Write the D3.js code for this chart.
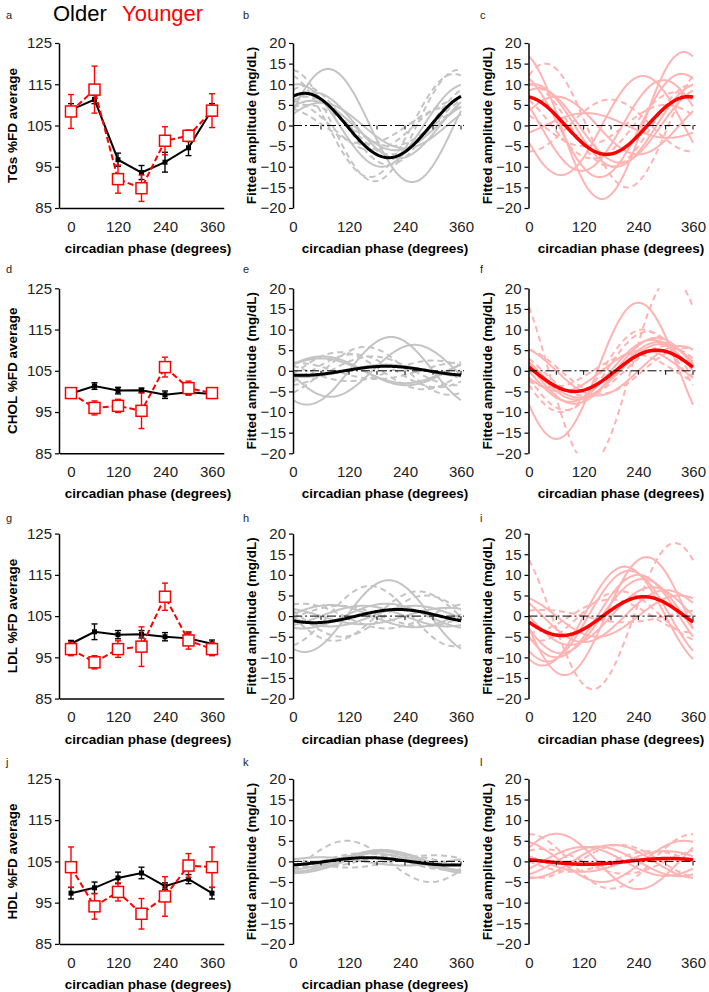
<!DOCTYPE html>
<html>
<head>
<meta charset="utf-8">
<script src="https://cdn.jsdelivr.net/npm/d3@7"></script>
<style>
  body { margin: 0; background: #fff; }
  svg { font-family: "Liberation Sans", Arial, sans-serif; }
</style>
</head>
<body>
<svg id="chart" width="709" height="992"></svg>
<script>
// ---- data ----
const phases = [0, 60, 120, 180, 240, 300, 360];
const xTicks = [0, 120, 240, 360];
const pctTicks = [85, 95, 105, 115, 125];
const ampTicks = [-20, -15, -10, -5, 0, 5, 10, 15, 20];
const lipids = ['TGs', 'CHOL', 'LDL', 'HDL'];
const panelLetters = ['a', 'b', 'c', 'd', 'e', 'f', 'g', 'h', 'i', 'j', 'k', 'l'];

// %FD average, mean and error per phase
const tgOlder = [108.8, 111.3, 96.7, 93.6, 96.1, 99.6, 108.8];
const tgOlderErr = [1.5, 1.0, 1.6, 1.7, 2.4, 1.9, 1.5];
const tgYounger = [108.4, 113.7, 92.0, 89.8, 101.3, 102.5, 108.6];
const tgYoungerErr = [4.1, 5.7, 3.4, 3.2, 3.4, 1.4, 4.1];

const cholOlder = [99.5, 101.3, 100.2, 100.3, 99.2, 99.8, 99.4];
const cholOlderErr = [0.5, 0.8, 0.8, 0.5, 0.9, 0.6, 0.5];
const cholYounger = [99.6, 96.0, 96.5, 95.3, 105.9, 100.8, 99.6];
const cholYoungerErr = [0.4, 1.7, 1.6, 4.3, 2.4, 1.7, 0.4];

const ldlOlder = [98.3, 101.2, 100.5, 100.6, 100.0, 99.6, 98.3];
const ldlOlderErr = [0.8, 1.9, 1.0, 0.9, 1.0, 1.3, 0.9];
const ldlYounger = [97.0, 93.8, 97.0, 97.6, 109.7, 99.1, 97.0];
const ldlYoungerErr = [1.6, 1.6, 2.0, 4.8, 3.3, 2.1, 1.6];

const hdlOlder = [97.3, 98.6, 101.0, 102.2, 99.0, 100.7, 97.3];
const hdlOlderErr = [1.4, 1.4, 1.4, 1.4, 0.8, 1.1, 1.4];
const hdlYounger = [103.6, 94.1, 97.6, 92.3, 96.5, 104.0, 103.6];
const hdlYoungerErr = [4.9, 3.1, 2.2, 3.7, 4.8, 2.9, 4.9];

// cosinor fits: [amplitude (mg/dL), acrophase (deg), dashed?]
const tgOlderMean = [7.8, 25];
const tgOlderFits = [
  [13.7, 75, 0], [10, 10, 0], [13.5, -5, 1], [12.5, -15, 1], [7, 30, 1], [6, 40, 0],
  [5, 30, 1], [4.5, -25, 1], [9.5, 25, 1], [6, -10, 1], [8, 45, 0], [5.5, 60, 0]
];
const tgYoungerMean = [7, -10];
const tgYoungerFits = [
  [17.8, -20, 0], [15, 36, 1], [12, 250, 0], [6.3, 178, 1], [3, 125, 0], [12.5, -25, 0],
  [11, 295, 0], [10, 0, 1], [9, 20, 0], [8, -40, 1], [10, 10, 0], [5, -60, 1], [7, 60, 0]
];
const cholOlderMean = [1.1, 200];
const cholOlderFits = [
  [8.2, 210, 0], [6.3, 260, 0], [5.8, 155, 1], [4.5, 100, 1], [3, 60, 0], [3.5, 63, 0],
  [2.5, 300, 1], [3.5, 170, 1], [2, 0, 1], [1.5, 200, 0], [4, 130, 1]
];
const cholYoungerMean = [5, 280];
const cholYoungerFits = [
  [16.5, 240, 0], [22.6, 313, 1], [6, 330, 0], [5.5, 340, 1], [10, 250, 1], [7.5, 270, 0],
  [7, 285, 0], [6, 300, 1], [8, 280, 0], [5, 250, 0], [6.5, 290, 0], [4, 230, 1], [9.5, 260, 1]
];
const ldlOlderMean = [1.6, 225];
const ldlOlderFits = [
  [8.7, 205, 0], [7.3, 165, 1], [6, 268, 1], [2.7, 80, 0], [5, 285, 1], [2.5, 150, 0],
  [3, 20, 1], [2, 330, 0], [3, 200, 0], [2.5, 100, 1], [2.5, 260, 0]
];
const ldlYoungerMean = [4.7, 252];
const ldlYoungerFits = [
  [17.7, 320, 1], [14.3, 258, 0], [12, 210, 0], [11, 220, 0], [6.3, 300, 0], [5, 330, 0],
  [1.5, 30, 1], [6, 200, 1], [9, 250, 0], [7, 270, 0], [4, 180, 1], [10, 240, 0]
];
const hdlOlderMean = [0.9, 160];
const hdlOlderFits = [
  [5, 115, 1], [2.8, 190, 0], [2.5, 200, 0], [2, 170, 0], [1.5, 230, 1], [2, 150, 1],
  [1, 60, 0], [2.5, 180, 0], [1.5, 300, 1]
];
const hdlYoungerMean = [0.7, 305];
const hdlYoungerFits = [
  [6.7, 60, 0], [6.6, 0, 1], [4, 185, 0], [4, 200, 1], [5, 340, 0], [3.5, 120, 0],
  [2.5, 270, 1], [3, 30, 1], [2.5, 300, 0], [3.6, 150, 0]
];

// ---- layout ----
const svg = d3.select('#chart');
const rowTop = [43, 288.3, 533.6, 778.9];
const plotH = 165;
const cols = [
  { axisX: 59, x0: 71, x1: 212, titleX: 148, yTitleX: 12 },
  { axisX: 293, x0: 293, x1: 461, titleX: 385, yTitleX: 251 },
  { axisX: 528.5, x0: 529, x1: 693, titleX: 621, yTitleX: 487 }
];

const pctData = [
  [tgOlder, tgOlderErr, tgYounger, tgYoungerErr],
  [cholOlder, cholOlderErr, cholYounger, cholYoungerErr],
  [ldlOlder, ldlOlderErr, ldlYounger, ldlYoungerErr],
  [hdlOlder, hdlOlderErr, hdlYounger, hdlYoungerErr]
];
const fitData = [
  [tgOlderMean, tgOlderFits, tgYoungerMean, tgYoungerFits],
  [cholOlderMean, cholOlderFits, cholYoungerMean, cholYoungerFits],
  [ldlOlderMean, ldlOlderFits, ldlYoungerMean, ldlYoungerFits],
  [hdlOlderMean, hdlOlderFits, hdlYoungerMean, hdlYoungerFits]
];

// legend
svg.append('text').attr('x', 53).attr('y', 21).attr('font-size', 22).attr('fill', '#000').text('Older');
svg.append('text').attr('x', 122).attr('y', 21).attr('font-size', 22).attr('fill', '#ff0000').text('Younger');

const styleAxis = (g) => {
  g.selectAll('.domain').attr('stroke', '#000').attr('stroke-width', 1.5);
  g.selectAll('.tick line').attr('stroke', '#000').attr('stroke-width', 1.2);
  g.selectAll('.tick text').attr('font-size', 15).attr('fill', '#222').attr('font-family', null);
};

const yTitle = (x, top, label) => {
  svg.append('text')
    .attr('transform', `translate(${x},${top + plotH / 2}) rotate(-90)`)
    .attr('text-anchor', 'middle').attr('dominant-baseline', 'central')
    .attr('font-size', 13.5).attr('font-weight', 'bold').text(label);
};
const xTitle = (x, top) => {
  svg.append('text').attr('x', x).attr('y', top + plotH + 45)
    .attr('text-anchor', 'middle').attr('font-size', 13.5).attr('font-weight', 'bold')
    .text('circadian phase (degrees)');
};
const letter = (x, y, t) => {
  svg.append('text').attr('x', x).attr('y', y).attr('font-size', 11).attr('fill', '#222').text(t);
};

// left column: %FD average with error bars
const drawPct = (r) => {
  const top = rowTop[r];
  const c = cols[0];
  const [older, olderErr, younger, youngerErr] = pctData[r];
  const x = d3.scaleLinear().domain([0, 360]).range([c.x0, c.x1]);
  const xAxisScale = d3.scaleLinear().domain([-30, 390]).range([x(-30), x(390)]);
  const y = d3.scaleLinear().domain([85, 125]).range([top + plotH, top]);

  svg.append('g').attr('transform', `translate(${c.axisX},0)`)
    .call(d3.axisLeft(y).tickValues(pctTicks).tickSize(4).tickSizeOuter(0).tickPadding(3))
    .call(styleAxis);
  svg.append('g').attr('transform', `translate(0,${top + plotH})`)
    .call(d3.axisBottom(xAxisScale).tickValues(xTicks).tickSize(0).tickPadding(13))
    .call(styleAxis);

  const line = d3.line().x((d, i) => x(phases[i])).y(d => y(d));
  const g = svg.append('g');

  const errBars = (vals, errs, colour) => {
    phases.forEach((p, i) => {
      const px = x(p), lo = y(vals[i] - errs[i]), hi = y(vals[i] + errs[i]);
      g.append('line').attr('x1', px).attr('x2', px).attr('y1', lo).attr('y2', hi)
        .attr('stroke', colour).attr('stroke-width', 1.4);
      [lo, hi].forEach(v => g.append('line').attr('x1', px - 3).attr('x2', px + 3)
        .attr('y1', v).attr('y2', v).attr('stroke', colour).attr('stroke-width', 1.4));
    });
  };

  // older (black)
  errBars(older, olderErr, '#000');
  g.append('path').datum(older).attr('d', line).attr('fill', 'none')
    .attr('stroke', '#000').attr('stroke-width', 2);
  g.selectAll(null).data(older).enter().append('rect')
    .attr('x', (d, i) => x(phases[i]) - 2.5).attr('y', d => y(d) - 2.5)
    .attr('width', 5).attr('height', 5).attr('fill', '#000');

  // younger (red)
  errBars(younger, youngerErr, '#ff0000');
  g.append('path').datum(younger).attr('d', line).attr('fill', 'none')
    .attr('stroke', '#ff0000').attr('stroke-width', 2).attr('stroke-dasharray', '6,3');
  g.selectAll(null).data(younger).enter().append('rect')
    .attr('x', (d, i) => x(phases[i]) - 5.5).attr('y', d => y(d) - 5.5)
    .attr('width', 11).attr('height', 11).attr('fill', '#fff')
    .attr('stroke', '#ff0000').attr('stroke-width', 1.5);

  yTitle(c.yTitleX, top, `${lipids[r]} %FD average`);
  xTitle(c.titleX, top);
};

// middle / right columns: fitted cosinor curves
const drawFits = (r, col) => {
  const top = rowTop[r];
  const c = cols[col];
  const mean = fitData[r][col === 1 ? 0 : 2];
  const fits = fitData[r][col === 1 ? 1 : 3];
  const faint = col === 1 ? '#c4c4c4' : '#ffb3b3';
  const strong = col === 1 ? '#000' : '#ff0000';

  const x = d3.scaleLinear().domain([0, 360]).range([c.x0, c.x1]);
  const y = d3.scaleLinear().domain([-20, 20]).range([top + plotH, top]);

  const clipId = `clip-${r}-${col}`;
  svg.append('clipPath').attr('id', clipId).append('rect')
    .attr('x', c.axisX).attr('y', top).attr('width', c.x1 - c.axisX + 4).attr('height', plotH);

  const degs = d3.range(0, 361, 2);
  const curve = (amp, phi) => d3.line()
    .x(d => x(d))
    .y(d => y(amp * Math.cos((d - phi) * Math.PI / 180)))(degs);

  const g = svg.append('g').attr('clip-path', `url(#${clipId})`);
  fits.forEach(([amp, phi, dashed]) => {
    g.append('path').attr('d', curve(amp, phi)).attr('fill', 'none')
      .attr('stroke', faint).attr('stroke-width', 2)
      .attr('stroke-dasharray', dashed ? '6,4' : null);
  });

  // zero line with small ticks every 60 degrees
  svg.append('line').attr('x1', c.axisX).attr('x2', x(360) + 3).attr('y1', y(0)).attr('y2', y(0))
    .attr('stroke', '#000').attr('stroke-width', 1).attr('stroke-dasharray', '9,3,2,3');
  svg.append('g').selectAll('line').data([60, 120, 180, 240, 300, 360]).enter().append('line')
    .attr('x1', d => x(d)).attr('x2', d => x(d)).attr('y1', y(0)).attr('y2', y(0) + 4)
    .attr('stroke', '#000').attr('stroke-width', 1);

  g.append('path').attr('d', curve(mean[0], mean[1])).attr('fill', 'none')
    .attr('stroke', strong).attr('stroke-width', col === 1 ? 3 : 3.5);

  svg.append('g').attr('transform', `translate(${c.axisX},0)`)
    .call(d3.axisLeft(y).tickValues(ampTicks).tickSize(4).tickSizeOuter(0).tickPadding(3))
    .call(styleAxis);
  svg.append('g').attr('transform', `translate(0,${top + plotH})`)
    .call(d3.axisBottom(x).tickValues(xTicks).tickSize(0).tickPadding(13))
    .call(g2 => g2.select('.domain').remove())
    .call(styleAxis);

  yTitle(c.yTitleX, top, 'Fitted amplitude (mg/dL)');
  if (!(r === 3 && col === 2)) xTitle(c.titleX, top);
};

[0, 1, 2, 3].forEach(r => {
  drawPct(r);
  drawFits(r, 1);
  drawFits(r, 2);
});

// panel letters
const letterX = [6, 243, 480];
const letterY = [19, 273, 522, 766];
panelLetters.forEach((t, i) => letter(letterX[i % 3], letterY[Math.floor(i / 3)], t));
</script>
</body>
</html>
